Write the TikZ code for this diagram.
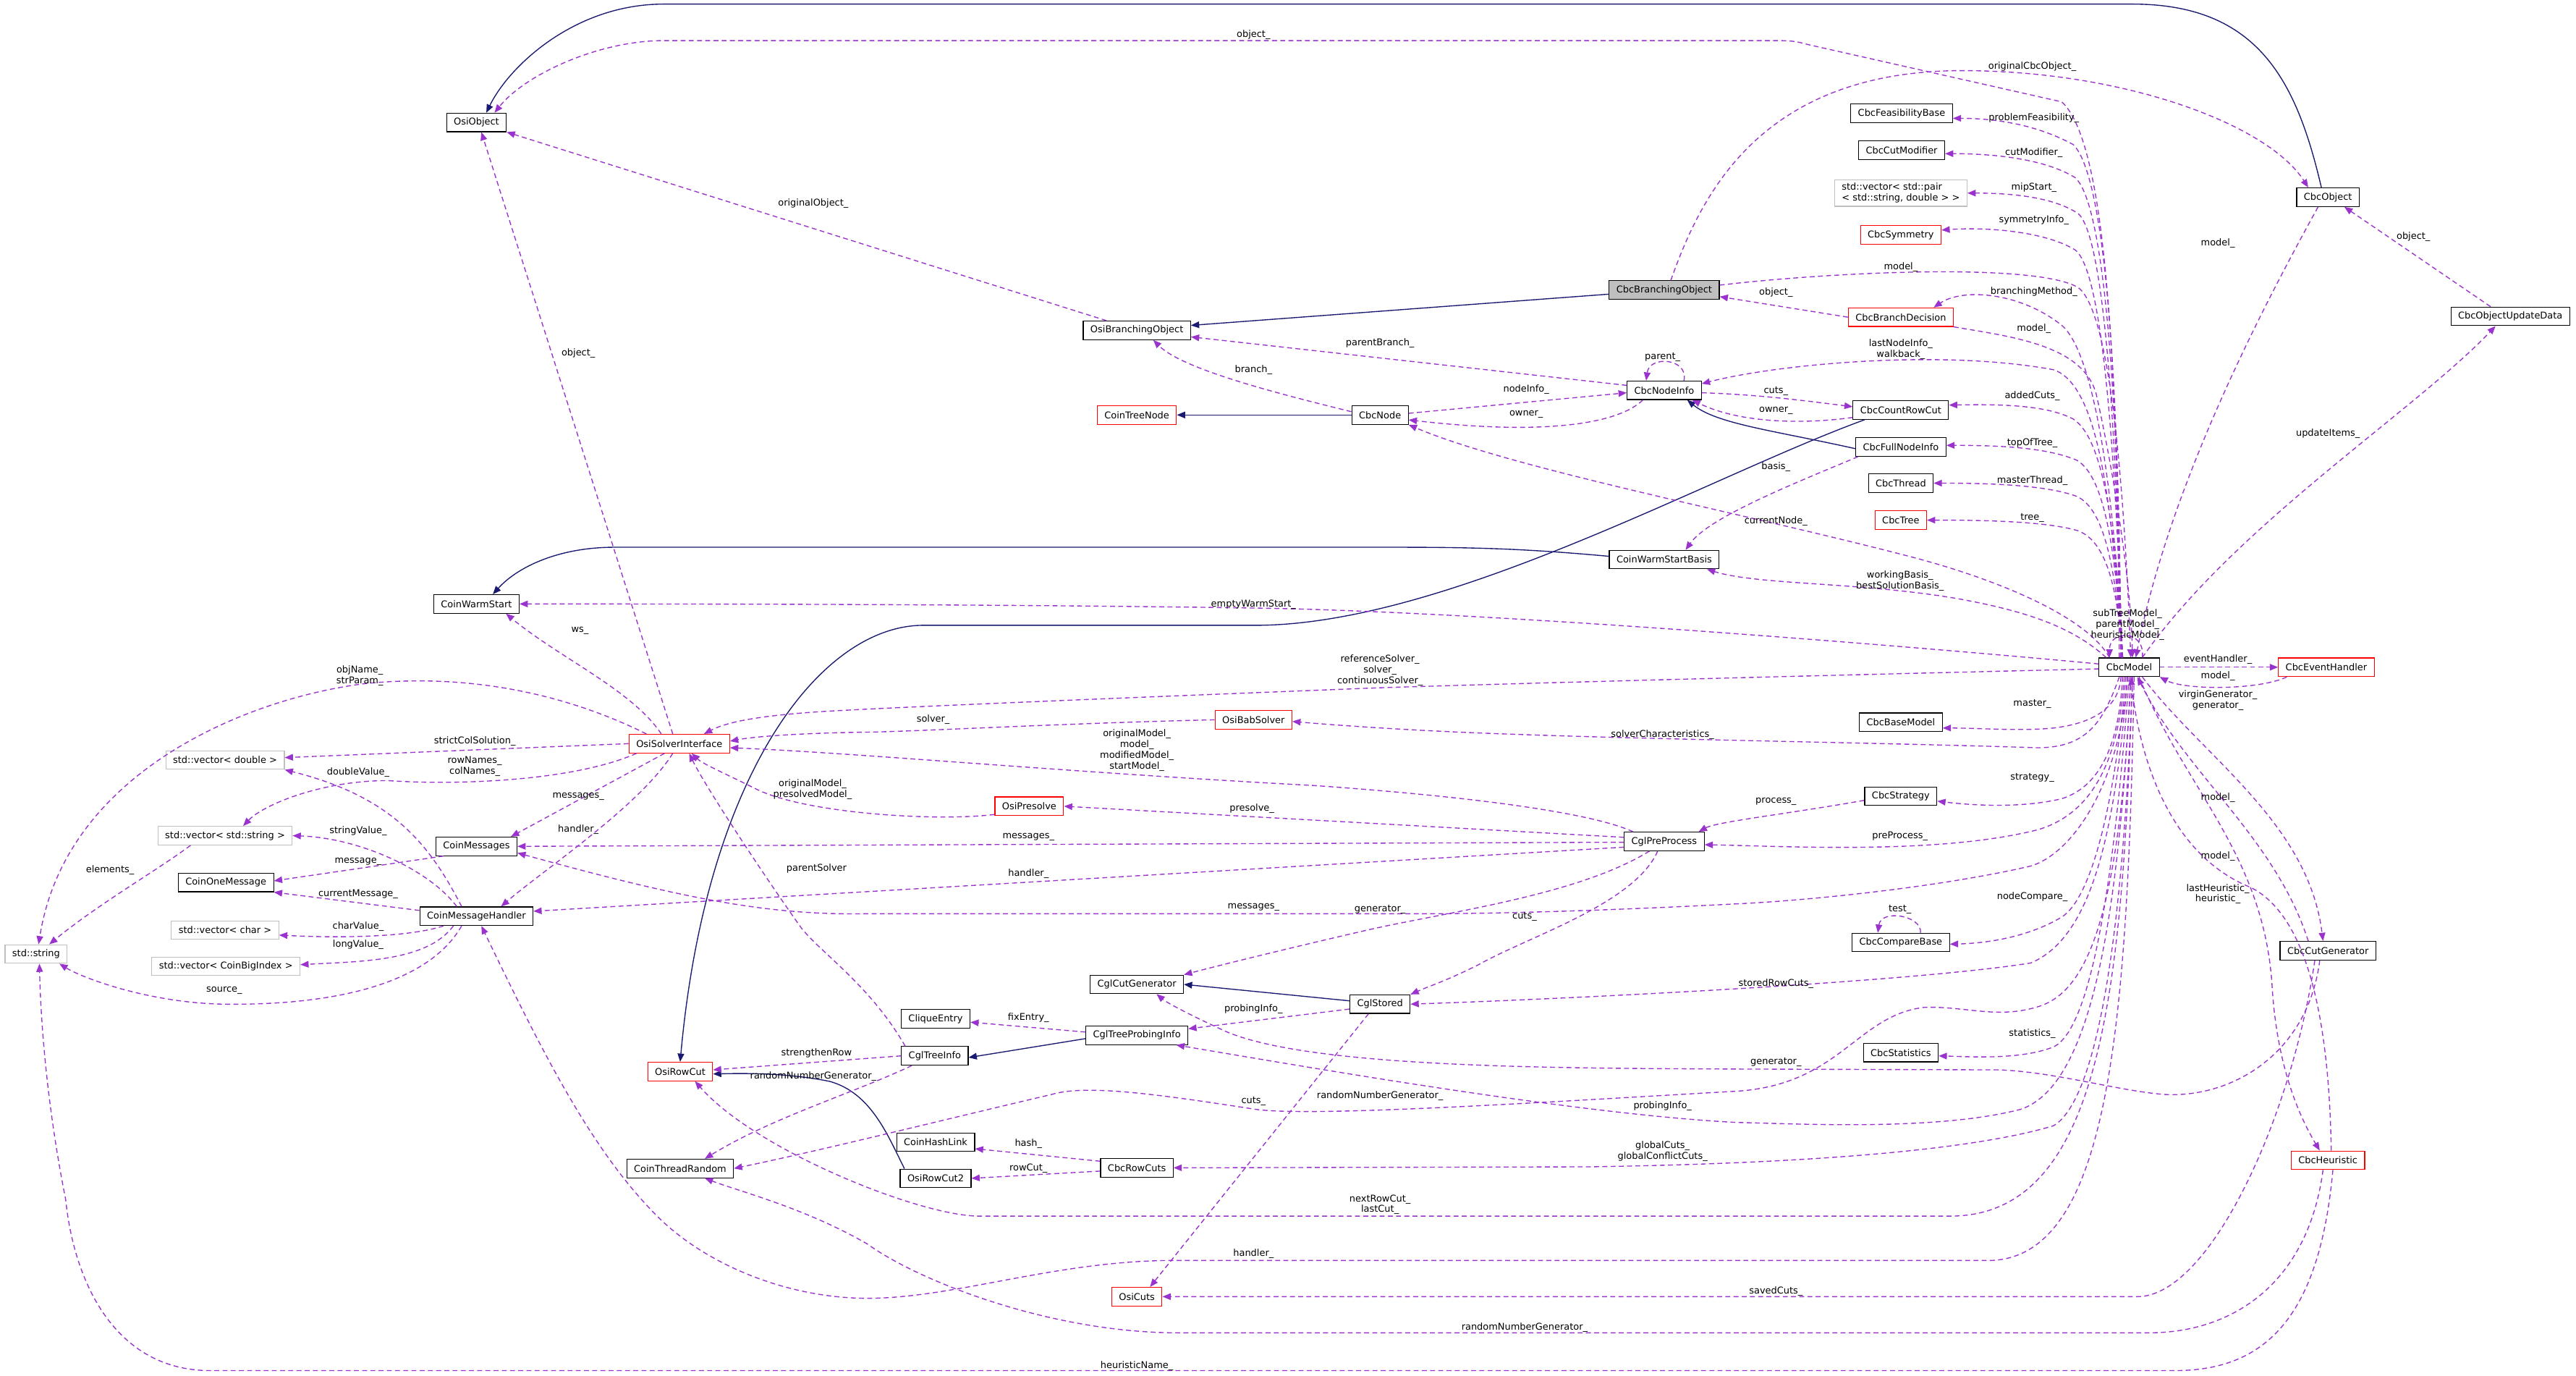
\documentclass[tikz,border=0pt]{standalone}
\usepackage{fontspec}
\setmainfont{DejaVu Sans}
\usepackage{xcolor}
\definecolor{usecol}{HTML}{9A32CD}
\definecolor{basecol}{HTML}{191970}
\definecolor{extgray}{HTML}{BFBFBF}
\definecolor{truncred}{HTML}{FF0000}
\usetikzlibrary{arrows.meta,positioning}
\newcommand{\dgfont}{\fontsize{5.7}{6.6}\selectfont}

\begin{document}
\begin{tikzpicture}[x=1pt, y=-1pt,
  cls/.style={draw=black, fill=white, line width=0.5pt, font=\dgfont, inner xsep=4.4pt, inner ysep=0pt, minimum height=11.3pt},
  clsred/.style={cls, draw=truncred},
  clsext/.style={cls, draw=extgray},
  clsmain/.style={cls, fill=extgray},
  lbl/.style={font=\dgfont, inner sep=0pt, align=center},
  uses/.style={draw=usecol, line width=0.6pt, dash pattern=on 3pt off 2pt, -{Triangle[length=5pt,width=4pt]}},
  derive/.style={draw=basecol, line width=0.6pt, -{Triangle[length=5pt,width=4pt]}}
]
\useasboundingbox (0,0) rectangle (1568,837);

% classes
\node[cls] (osiobj) at (290,74.5) {OsiObject};
\node[cls] (cbcobj) at (1417,120) {CbcObject};
\node[cls] (feasbase) at (1157.5,69) {CbcFeasibilityBase};
\node[cls] (cutmod) at (1157.5,91.5) {CbcCutModifier};
\node[clsext, align=left, inner ysep=2pt] (vecpair) at (1157,117.5) {std::vector< std::pair\\< std::string, double > >};
\node[clsred] (symm) at (1157,143) {CbcSymmetry};
\node[clsmain] (cbcbrobj) at (1013,176.5) {CbcBranchingObject};
\node[cls] (osibrobj) at (692,201) {OsiBranchingObject};
\node[clsred] (brdec) at (1157,193) {CbcBranchDecision};
\node[cls] (updata) at (1528,192.5) {CbcObjectUpdateData};
\node[cls] (nodeinfo) at (1013,237.5) {CbcNodeInfo};
\node[clsred] (treenode) at (692,252.5) {CoinTreeNode};
\node[cls] (cbcnode) at (840,252.5) {CbcNode};
\node[cls] (countrc) at (1157,249.5) {CbcCountRowCut};
\node[cls] (fullni) at (1157,272) {CbcFullNodeInfo};
\node[cls] (thread) at (1157,294) {CbcThread};
\node[clsred] (tree) at (1157,316.5) {CbcTree};
\node[cls] (wsbasis) at (1013,340.5) {CoinWarmStartBasis};
\node[cls] (warmstart) at (290,367.5) {CoinWarmStart};
\node[cls] (cbcmodel) at (1296,406) {CbcModel};
\node[clsred] (evhandler) at (1416,406) {CbcEventHandler};
\node[cls] (basemodel) at (1157,439.5) {CbcBaseModel};
\node[clsred] (babsolver) at (763,438) {OsiBabSolver};
\node[clsred] (osisi) at (413.5,452.5) {OsiSolverInterface};
\node[clsext] (vecdbl) at (137,462.5) {std::vector< double >};
\node[clsred] (presolve) at (626.5,490.6) {OsiPresolve};
\node[cls] (strategy) at (1157,484.5) {CbcStrategy};
\node[clsext] (vecstr) at (137,508.5) {std::vector< std::string >};
\node[cls] (messages) at (290,515) {CoinMessages};
\node[cls] (preproc) at (1013,512) {CglPreProcess};
\node[cls] (onemsg) at (137.5,537) {CoinOneMessage};
\node[cls] (msghandler) at (290,557.5) {CoinMessageHandler};
\node[clsext] (vecchar) at (137,566) {std::vector< char >};
\node[clsext] (vecbig) at (137.5,588) {std::vector< CoinBigIndex >};
\node[clsext] (stdstr) at (22,580.5) {std::string};
\node[cls] (compare) at (1157,573.5) {CbcCompareBase};
\node[cls] (cbccutgen) at (1417,578.5) {CbcCutGenerator};
\node[cls] (cglcutgen) at (692,599) {CglCutGenerator};
\node[cls] (stored) at (840,611) {CglStored};
\node[cls] (clique) at (569.5,620) {CliqueEntry};
\node[cls] (probinfo) at (692,630) {CglTreeProbingInfo};
\node[cls] (treeinfo) at (569,642.5) {CglTreeInfo};
\node[cls] (stats) at (1157,640.5) {CbcStatistics};
\node[clsred] (rowcut) at (414,652) {OsiRowCut};
\node[cls] (hashlink) at (569.5,695) {CoinHashLink};
\node[cls] (rowcuts) at (692,710.6) {CbcRowCuts};
\node[cls] (thrandom) at (414,711) {CoinThreadRandom};
\node[cls] (rowcut2) at (569.5,717) {OsiRowCut2};
\node[clsred] (heuristic) at (1417,706) {CbcHeuristic};
\node[clsred] (osicuts) at (692,789) {OsiCuts};

% inheritance
\draw[derive] ([xshift=-4pt]cbcobj.north) .. controls (1398,50) and (1375,2.5) .. (1298,2.5) -- (404,2.5) .. controls (350,2.5) and (310,40) .. ([xshift=6pt]osiobj.north);
\draw[derive] ([yshift=-2.5pt]cbcbrobj.west) -- ([yshift=3pt]osibrobj.east);
\draw[derive] (cbcnode.west) -- (treenode.east);
\draw[derive] ([yshift=-1pt]fullni.west) .. controls (1080,262) and (1045,258) .. ([xshift=14pt]nodeinfo.south);
\draw[derive] ([xshift=-22pt]countrc.south) .. controls (1040,290) and (880,380.5) .. (764,380.5) -- (562,380.5) .. controls (500,380.5) and (430,470) .. (rowcut.north);
\draw[derive] ([yshift=2pt]wsbasis.west) .. controls (930,334) and (900,333) .. (849,333) -- (374,333) .. controls (340,333) and (315,345) .. ([xshift=10pt]warmstart.north);
\draw[derive] ([yshift=2pt]stored.west) -- (cglcutgen.east);
\draw[derive] ([yshift=-2pt]probinfo.west) -- ([yshift=-1pt]treeinfo.east);
\draw[derive] ([xshift=-19pt]rowcut2.north) .. controls (540,690) and (530,665) .. (505,658) .. controls (480,653) and (455,653) .. ([yshift=-1.5pt]rowcut.east);

% CbcModel upwards
\draw[uses] ([xshift=-6pt]cbcmodel.north) .. controls (1289,200) and (1280,85) .. (1255,62) -- (1100,27) .. controls (1093,25) and (1090,24.7) .. (1080,24.7) -- (404,24.7) .. controls (365,24.7) and (320,45) .. ([xshift=11pt]osiobj.north);
\draw[uses] ([xshift=-5pt]cbcmodel.north) .. controls (1290,260) and (1284,110) .. (1262,88) .. controls (1240,76) and (1215,72) .. ([yshift=-3pt]feasbase.east);
\draw[uses] ([xshift=-5pt]cbcmodel.north) .. controls (1290,270) and (1283,125) .. (1263,108) .. controls (1245,97) and (1215,93.5) .. ([yshift=-2pt]cutmod.east);
\draw[uses] ([xshift=-5pt]cbcmodel.north) .. controls (1289,280) and (1282,145) .. (1265,130) .. controls (1250,120) and (1225,117.5) .. (vecpair.east);
\draw[uses] ([xshift=-4pt]cbcmodel.north) .. controls (1288,290) and (1281,165) .. (1263,152) .. controls (1245,141) and (1210,138) .. ([yshift=3pt]symm.east);
\draw[uses] ([xshift=-4pt]cbcmodel.north) .. controls (1287,300) and (1275,215) .. (1255,198) .. controls (1230,178) and (1195,175) .. ([xshift=20pt]brdec.north);
\draw[uses] ([xshift=-4pt]cbcmodel.north) .. controls (1286,320) and (1280,235) .. (1250,225) .. controls (1180,212) and (1080,222) .. ([yshift=4pt]nodeinfo.east);
\draw[uses] ([xshift=-4pt]cbcmodel.north) .. controls (1288,330) and (1282,268) .. (1262,255) .. controls (1245,246) and (1215,246) .. ([yshift=3pt]countrc.east);
\draw[uses] ([xshift=-4pt]cbcmodel.north) .. controls (1288,340) and (1282,290) .. (1264,280) .. controls (1245,272) and (1215,271) .. ([yshift=1pt]fullni.east);
\draw[uses] ([xshift=-4pt]cbcmodel.north) .. controls (1288,350) and (1282,310) .. (1264,302) .. controls (1245,295) and (1210,294) .. (thread.east);
\draw[uses] ([xshift=-4pt]cbcmodel.north) .. controls (1289,360) and (1283,330) .. (1265,323) .. controls (1245,317) and (1205,316.5) .. (tree.east);
\draw[uses] ([xshift=-12pt]cbcmodel.north) .. controls (1270,375) and (1215,352) .. (1160,338) .. controls (1060,312) and (920,285) .. ([yshift=-6pt]cbcnode.east);
\draw[uses] ([xshift=-14pt]cbcmodel.north) .. controls (1262,382) and (1235,372) .. (1190,364) .. controls (1130,354) and (1070,356) .. ([xshift=26pt]wsbasis.south);
\draw[uses] ([yshift=2pt]cbcmodel.west) .. controls (1150,392) and (900,372) .. (764,370) .. controls (600,367.5) and (400,367.5) .. (warmstart.east);
\draw[uses] ([yshift=-1pt]cbcmodel.west) .. controls (1150,410) and (950,415) .. (840,418.5) .. controls (700,424) and (550,430) .. (500,433) .. controls (470,435) and (445,438) .. ([xshift=15pt]osisi.north);
\draw[uses] ([xshift=8pt]cbcmodel.north) .. controls (1306,383) and (1284,383) .. ([xshift=-12pt]cbcmodel.north);
\draw[uses] ([xshift=8pt]cbcmodel.north) .. controls (1360,320) and (1470,250) .. ([xshift=-9pt]updata.south);
\draw[uses] (cbcmodel.east) -- (evhandler.west);

% into CbcModel
\draw[uses] ([yshift=3pt]cbcbrobj.east) .. controls (1120,165) and (1240,160) .. (1265,175) .. controls (1285,190) and (1293,300) .. ([xshift=1pt]cbcmodel.north);
\draw[uses] (brdec.south east) .. controls (1225,205) and (1268,210) .. (1276,240) .. controls (1285,280) and (1297,350) .. ([xshift=2pt]cbcmodel.north);
\draw[uses] ([xshift=-6pt]cbcobj.south) .. controls (1370,200) and (1320,300) .. ([xshift=4pt]cbcmodel.north);
\draw[uses] ([xshift=-24pt]evhandler.south) .. controls (1375,420) and (1330,420) .. (cbcmodel.south east);
\draw[uses] ([xshift=-12pt]cbccutgen.north) .. controls (1385,510) and (1330,470) .. ([xshift=5pt]cbcmodel.south);
\draw[uses] ([xshift=2pt]heuristic.north) .. controls (1418,640) and (1410,560) .. (1370,540) .. controls (1320,520) and (1302,460) .. ([xshift=1pt]cbcmodel.south);

% CbcModel downwards
\draw[uses] ([xshift=-6pt]cbcmodel.south) .. controls (1280,440) and (1270,455) .. (1240,455) .. controls (1150,452) and (1000,450) .. (900,446) .. controls (850,444) and (810,441) .. ([yshift=-1pt]babsolver.east);
\draw[uses] ([xshift=-5pt]cbcmodel.south) .. controls (1290,430) and (1275,440) .. (1250,443) .. controls (1230,445) and (1205,443) .. ([yshift=-3.5pt]basemodel.east);
\draw[uses] ([xshift=-4pt]cbcmodel.south) .. controls (1290,450) and (1280,478) .. (1255,486) .. controls (1230,492) and (1200,490) .. ([yshift=-3pt]strategy.east);
\draw[uses] ([xshift=-3pt]cbcmodel.south) .. controls (1290,460) and (1275,495) .. (1240,505) .. controls (1180,520) and (1090,515) .. ([yshift=-2pt]preproc.east);
\draw[uses] ([xshift=-2pt]cbcmodel.south) .. controls (1288,480) and (1275,545) .. (1255,558) .. controls (1235,570) and (1210,574) .. ([yshift=-1pt]compare.east);
\draw[uses] ([xshift=-1pt]cbcmodel.south) .. controls (1288,500) and (1275,570) .. (1236,586) .. controls (1160,598) and (950,608) .. (stored.east);
\draw[uses] (cbcmodel.south) .. controls (1288,520) and (1275,625) .. (1250,637) .. controls (1230,645) and (1200,643) .. ([yshift=-2pt]stats.east);
\draw[uses] ([xshift=1pt]cbcmodel.south) .. controls (1290,550) and (1275,660) .. (1230,675) .. controls (1180,688) and (1100,684) .. (1057,683) .. controls (960,678) and (800,650) .. ([xshift=24pt]probinfo.south);
\draw[uses] ([xshift=1pt]cbcmodel.south) .. controls (1290,560) and (1270,605) .. (1239,613) .. controls (1215,620) and (1195,612) .. (1171,613) .. controls (1130,618) and (1120,660) .. (1057,664) .. controls (950,670) and (800,680) .. (764,675) .. controls (700,665) and (660,660) .. (640,666) .. controls (580,680) and (500,700) .. (thrandom.east);
\draw[uses] ([xshift=2pt]cbcmodel.south) .. controls (1292,580) and (1275,670) .. (1250,685) .. controls (1200,700) and (1100,708) .. (967,710) -- (rowcuts.east);
\draw[uses] ([xshift=2pt]cbcmodel.south) .. controls (1292,600) and (1280,740) .. (1187,740) -- (596,740) .. controls (560,740) and (460,700) .. ([xshift=9pt]rowcut.south);
\draw[uses] ([xshift=3pt]cbcmodel.south) .. controls (1295,620) and (1285,767) .. (1210,767) -- (710,767) .. controls (640,768) and (580,790) .. (528,790) .. controls (480,790) and (430,770) .. (400,740) .. controls (360,700) and (330,640) .. ([xshift=3pt]msghandler.south);
\draw[uses] ([xshift=-1pt]cbcmodel.south) .. controls (1290,480) and (1260,520) .. (1236,527) .. controls (1180,540) and (1100,548) .. (1057,550) .. controls (960,555) and (900,556) .. (865,556) -- (528,556) .. controls (470,557) and (420,548) .. ([yshift=-4pt]messages.east);
\draw[uses] ([xshift=8pt]cbcmodel.south) .. controls (1340,460) and (1405,500) .. ([xshift=-3pt]cbccutgen.north);
\draw[uses] ([xshift=6pt]cbcmodel.south) .. controls (1330,480) and (1378,520) .. (1383,600) .. controls (1386,650) and (1400,680) .. ([xshift=-5pt]heuristic.north);

% cut generator and heuristic
\draw[uses] ([xshift=-5pt]cbccutgen.south) .. controls (1405,640) and (1360,668) .. (1318,666) .. controls (1290,664) and (1250,652) .. (1216,651) -- (1057,650.5) .. controls (950,650) and (800,650) .. (747,628) .. controls (725,618) and (710,610) .. ([xshift=12pt]cglcutgen.south);
\draw[uses] ([xshift=-8pt]cbccutgen.south) .. controls (1395,680) and (1345,789) .. (1301,789) -- (osicuts.east);
\draw[uses] ([xshift=-3pt]heuristic.south) .. controls (1405,780) and (1360,811) .. (1308,811) -- (717,811) .. controls (640,811) and (560,780) .. (528,757) .. controls (490,735) and (450,725) .. ([xshift=15pt]thrandom.south);
\draw[uses] ([xshift=3pt]heuristic.south) .. controls (1412,800) and (1380,834) .. (1324,834) -- (128,834) .. controls (70,834) and (45,780) .. (40,730) .. controls (30,680) and (25,630) .. ([xshift=2pt]stdstr.south);

% objects and branching
\draw[uses] ([xshift=-4pt]osisi.north) -- ([xshift=3pt]osiobj.south);
\draw[uses] ([xshift=-18.5pt]osibrobj.north) -- (osiobj.south east);
\draw[uses] ([xshift=4pt]cbcbrobj.north) .. controls (1035,120) and (1070,45) .. (1190,43) .. controls (1290,42) and (1380,75) .. ([xshift=-12pt]cbcobj.north);
\draw[uses] ([xshift=-12pt]updata.north) -- ([xshift=10pt]cbcobj.south);
\draw[uses] (brdec.west) -- ([yshift=-4pt]cbcbrobj.east);

% node info
\draw[uses] ([xshift=12pt]nodeinfo.north) .. controls (1028,218) and (1004,216) .. ([xshift=-11pt]nodeinfo.north);
\draw[uses] ([yshift=3pt]nodeinfo.west) -- ([yshift=-4pt]osibrobj.east);
\draw[uses] ([yshift=2pt]cbcnode.west) .. controls (780,240) and (720,225) .. ([xshift=10pt]osibrobj.south);
\draw[uses] ([yshift=1pt]cbcnode.east) -- ([yshift=-1.5pt]nodeinfo.west);
\draw[uses] ([xshift=-13pt]nodeinfo.south) .. controls (985,258) and (940,265) .. ([yshift=-3pt]cbcnode.east);
\draw[uses] ([yshift=-1.5pt]nodeinfo.east) .. controls (1070,240) and (1100,244) .. ([yshift=2pt]countrc.west);
\draw[uses] ([yshift=-4.5pt]countrc.west) .. controls (1100,258) and (1060,258) .. ([xshift=17pt]nodeinfo.south);
\draw[uses] ([xshift=-26pt]fullni.south) .. controls (1090,295) and (1040,315) .. ([xshift=13pt]wsbasis.north);

% solver interface
\draw[uses] ([xshift=-11pt]osisi.north) .. controls (385,420) and (340,400) .. ([xshift=18pt]warmstart.south);
\draw[uses] ([xshift=-20pt]osisi.north) .. controls (340,420) and (280,410) .. (222,416) .. controls (150,425) and (40,470) .. ([xshift=1.5pt]stdstr.north);
\draw[uses] (osisi.west) -- ([yshift=1.5pt]vecdbl.east);
\draw[uses] ([xshift=-26pt]osisi.south) .. controls (350,475) and (280,478) .. (236,475) .. controls (195,475) and (160,490) .. ([xshift=11pt]vecstr.north);
\draw[uses] ([xshift=-9pt]osisi.south) -- ([xshift=21pt]messages.north);
\draw[uses] ([xshift=-4pt]osisi.south) .. controls (390,490) and (330,530) .. ([xshift=15pt]msghandler.north);
\draw[uses] ([xshift=-19pt]preproc.north) .. controls (970,495) and (900,485) .. (800,478) .. controls (650,470) and (520,458) .. ([yshift=-2.5pt]osisi.east);
\draw[uses] ([yshift=-5pt]presolve.west) .. controls (570,500) and (490,495) .. (460,480) .. controls (440,470) and (428,465) .. ([xshift=7.5pt]osisi.south);
\draw[uses] (babsolver.west) .. controls (650,440) and (560,445) .. (528,445.5) .. controls (490,446) and (460,448) .. ([yshift=1.5pt]osisi.east);

% preprocessing
\draw[uses] ([yshift=2.5pt]preproc.west) -- (presolve.east);
\draw[uses] ([yshift=-0.5pt]preproc.west) -- (messages.east);
\draw[uses] ([yshift=-3.5pt]preproc.west) -- ([yshift=3pt]msghandler.east);
\draw[uses] ([xshift=-9pt]preproc.south) .. controls (960,545) and (880,555) .. (832,566) .. controls (780,578) and (740,588) .. (cglcutgen.north east);
\draw[uses] ([xshift=-4pt]preproc.south) .. controls (995,550) and (930,570) .. (900,587) .. controls (880,597) and (870,600) .. (stored.north east);
\draw[uses] ([yshift=-2.5pt]strategy.west) .. controls (1090,495) and (1045,500) .. ([xshift=21pt]preproc.north);
\draw[uses] ([xshift=12pt]compare.north) .. controls (1170,557) and (1145,553) .. ([xshift=-14pt]compare.north);

% cgl and row cuts
\draw[uses] ([yshift=-3pt]stored.west) -- ([yshift=4pt]probinfo.east);
\draw[uses] ([yshift=2pt]probinfo.west) -- ([yshift=-2pt]clique.east);
\draw[uses] ([xshift=-7pt]stored.south) -- ([xshift=8pt]osicuts.north);
\draw[uses] ([xshift=-18pt]treeinfo.north) .. controls (530,600) and (500,580) .. (488,565) .. controls (470,540) and (430,480) .. ([xshift=6pt]osisi.south);
\draw[uses] (treeinfo.west) -- ([yshift=1pt]rowcut.east);
\draw[uses] ([xshift=-14pt]treeinfo.south) .. controls (520,665) and (470,680) .. ([xshift=15pt]thrandom.north);
\draw[uses] ([yshift=4pt]rowcuts.west) -- ([yshift=-4pt]hashlink.east);
\draw[uses] ([yshift=-2pt]rowcuts.west) -- (rowcut2.east);

% messages
\draw[uses] ([xshift=-21pt]vecstr.south) .. controls (95,530) and (60,550) .. ([xshift=8pt]stdstr.north);
\draw[uses] ([xshift=-9pt]msghandler.north) .. controls (262,515) and (240,485) .. (vecdbl.south east);
\draw[uses] ([xshift=-12pt]msghandler.north) .. controls (262,530) and (220,510) .. (vecstr.east);
\draw[uses] ([xshift=-20pt]messages.south) -- ([yshift=1pt]onemsg.east);
\draw[uses] ([yshift=3.5pt]msghandler.west) -- (onemsg.south east);
\draw[uses] ([xshift=-20pt]msghandler.south) .. controls (250,570) and (210,571) .. ([yshift=-3pt]vecchar.east);
\draw[uses] ([xshift=-14pt]msghandler.south) .. controls (260,585) and (220,585) .. ([yshift=1pt]vecbig.east);
\draw[uses] ([xshift=-9pt]msghandler.south) .. controls (260,600) and (200,612) .. (135,611) .. controls (90,610) and (50,595) .. ([xshift=-5pt]stdstr.south east);

% edge labels
\node[lbl] (lobjA) at (763,21) {object\_};
\node[lbl] (lobjB) at (352,215) {object\_};
\node[lbl] (lorigobj) at (495,124) {originalObject\_};
\node[lbl] (lorigcbc) at (1237,40.4) {originalCbcObject\_};
\node[lbl] (lfeas) at (1238,72) {problemFeasibility\_};
\node[lbl] (lcutmod) at (1238,93) {cutModifier\_};
\node[lbl] (lmip) at (1238,114) {mipStart\_};
\node[lbl] (lsymm) at (1238,134) {symmetryInfo\_};
\node[lbl] (lmodelA) at (1157,162.5) {model\_};
\node[lbl] (lobjC) at (1081,178) {object\_};
\node[lbl] (lbrmeth) at (1238,177.6) {branchingMethod\_};
\node[lbl] (lmodelB) at (1238,200) {model\_};
\node[lbl] (lmodelC) at (1350,148) {model\_};
\node[lbl] (lobjD) at (1469,144) {object\_};
\node[lbl] (lupdate) at (1417,264) {updateItems\_};
\node[lbl] (llastni) at (1157,212.7) {lastNodeInfo\_\\walkback\_};
\node[lbl] (lparent) at (1012,217.5) {parent\_};
\node[lbl] (lparbr) at (840,209) {parentBranch\_};
\node[lbl] (lbranch) at (763,225) {branch\_};
\node[lbl] (lnodeinfo) at (929,237) {nodeInfo\_};
\node[lbl] (lownerA) at (929,252) {owner\_};
\node[lbl] (lcutsA) at (1081,238) {cuts\_};
\node[lbl] (lownerB) at (1081,250) {owner\_};
\node[lbl] (laddcuts) at (1237,241) {addedCuts\_};
\node[lbl] (ltop) at (1237,269.5) {topOfTree\_};
\node[lbl] (lbasis) at (1081,284) {basis\_};
\node[lbl] (lmthread) at (1237,292.5) {masterThread\_};
\node[lbl] (ltree) at (1237,315) {tree\_};
\node[lbl] (lcurnode) at (1081,317) {currentNode\_};
\node[lbl] (lwork) at (1156.5,353.7) {workingBasis\_\\bestSolutionBasis\_};
\node[lbl] (lempty) at (763,368) {emptyWarmStart\_};
\node[lbl] (lsub) at (1295,380) {subTreeModel\_\\parentModel\_\\heuristicModel\_};
\node[lbl] (lrefsolv) at (840,408) {referenceSolver\_\\solver\_\\continuousSolver\_};
\node[lbl] (levh) at (1350,401.5) {eventHandler\_};
\node[lbl] (lmodelD) at (1350,411.5) {model\_};
\node[lbl] (lvirgin) at (1350,426.3) {virginGenerator\_\\generator\_};
\node[lbl] (lmaster) at (1237,428.5) {master\_};
\node[lbl] (lsolvchar) at (1012,447) {solverCharacteristics\_};
\node[lbl] (lsolver) at (568,438) {solver\_};
\node[lbl] (lws) at (353,384) {ws\_};
\node[lbl] (lobjname) at (219,411) {objName\_\\strParam\_};
\node[lbl] (lstrict) at (289,451) {strictColSolution\_};
\node[lbl] (lrownames) at (289,466.5) {rowNames\_\\colNames\_};
\node[lbl] (ldouble) at (218,470) {doubleValue\_};
\node[lbl] (lmsgA) at (352,484.5) {messages\_};
\node[lbl] (lhandA) at (352,505) {handler\_};
\node[lbl] (lorigB) at (494.6,480.3) {originalModel\_\\presolvedModel\_};
\node[lbl] (lorigC) at (692,456.5) {originalModel\_\\model\_\\modifiedModel\_\\startModel\_};
\node[lbl] (lstrategy) at (1237,473.4) {strategy\_};
\node[lbl] (lprocess) at (1081,487.6) {process\_};
\node[lbl] (lmodelE) at (1350,485.6) {model\_};
\node[lbl] (lpresolve) at (762,492) {presolve\_};
\node[lbl] (lstrval) at (218,505.7) {stringValue\_};
\node[lbl] (lpreproc) at (1156.5,509) {preProcess\_};
\node[lbl] (lmsgB) at (626,509.5) {messages\_};
\node[lbl] (lmodelF) at (1350,521) {model\_};
\node[lbl] (lmessage) at (218,524.5) {message\_};
\node[lbl] (lelements) at (67,529.5) {elements\_};
\node[lbl] (lparsolv) at (497,528.5) {parentSolver};
\node[lbl] (lhandB) at (626,531.5) {handler\_};
\node[lbl] (lheur) at (1350,544) {lastHeuristic\_\\heuristic\_};
\node[lbl] (lcurmsg) at (218,544) {currentMessage\_};
\node[lbl] (lnodecmp) at (1237,545.6) {nodeCompare\_};
\node[lbl] (lmsgC) at (763,552) {messages\_};
\node[lbl] (lgenA) at (840,553.5) {generator\_};
\node[lbl] (ltest) at (1156.5,553.5) {test\_};
\node[lbl] (lcutsB) at (928,558) {cuts\_};
\node[lbl] (lchar) at (218,564) {charValue\_};
\node[lbl] (llong) at (218,575) {longValue\_};
\node[lbl] (lstoredrc) at (1081,598.5) {storedRowCuts\_};
\node[lbl] (lsource) at (136.5,602.5) {source\_};
\node[lbl] (lprobA) at (763,614) {probingInfo\_};
\node[lbl] (lfix) at (626,619.5) {fixEntry\_};
\node[lbl] (lstats) at (1237,629) {statistics\_};
\node[lbl] (lstrength) at (497,641) {strengthenRow};
\node[lbl] (lgenB) at (1081,646.5) {generator\_};
\node[lbl] (lrngA) at (495,655) {randomNumberGenerator\_};
\node[lbl] (lrngB) at (840,667) {randomNumberGenerator\_};
\node[lbl] (lcutsC) at (763,670) {cuts\_};
\node[lbl] (lprobB) at (1012,673) {probingInfo\_};
\node[lbl] (lhash) at (626,696) {hash\_};
\node[lbl] (lglobal) at (1012,700.5) {globalCuts\_\\globalConflictCuts\_};
\node[lbl] (lrowcut) at (626,711) {rowCut\_};
\node[lbl] (lnext) at (840,733) {nextRowCut\_\\lastCut\_};
\node[lbl] (lhandC) at (763,763) {handler\_};
\node[lbl] (lsaved) at (1081,785.6) {savedCuts\_};
\node[lbl] (lrngC) at (928,808) {randomNumberGenerator\_};
\node[lbl] (lheurname) at (692,831) {heuristicName\_};
\end{tikzpicture}
\end{document}
